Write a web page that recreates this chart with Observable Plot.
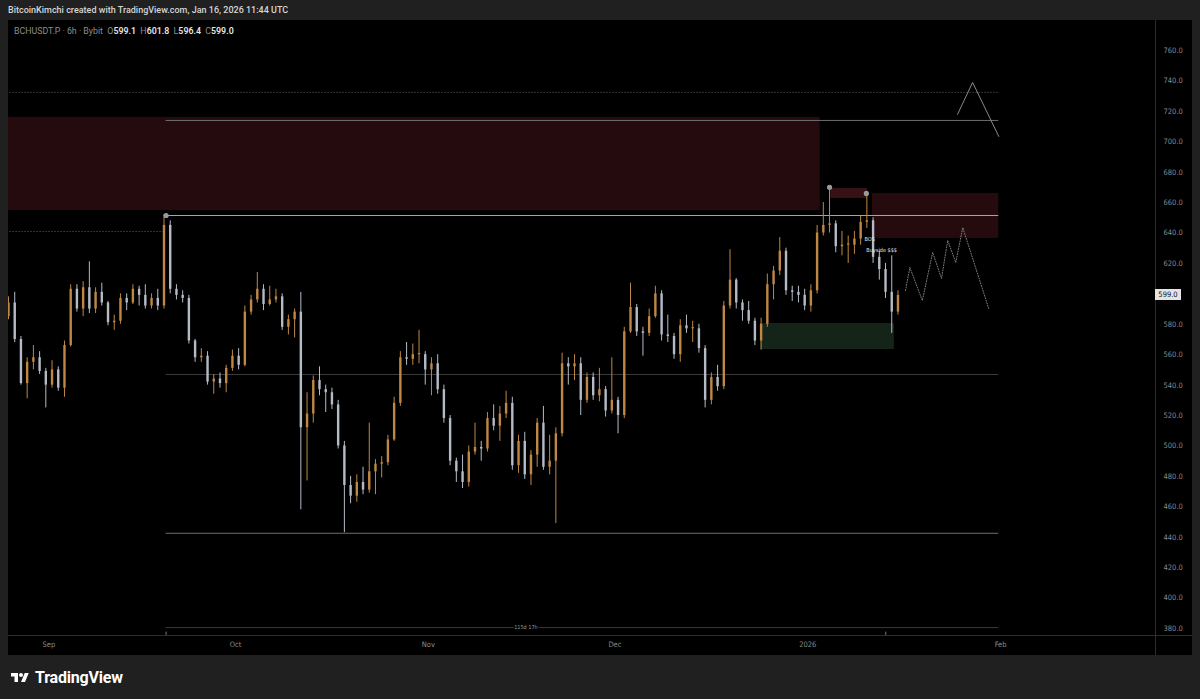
<!DOCTYPE html>
<html><head><meta charset="utf-8">
<script src="https://cdn.jsdelivr.net/npm/d3@7"></script>
<script src="https://cdn.jsdelivr.net/npm/@observablehq/plot@0.6"></script>
<style>
html,body{margin:0;padding:0;background:#202020;width:1200px;height:699px;overflow:hidden;font-family:Roboto,"Open Sans",sans-serif;}
#hdr{position:absolute;left:8px;top:5px;font-size:9px;font-weight:500;color:#d6d6d6;white-space:nowrap;}
#panel{position:absolute;left:8px;top:20px;width:1184px;height:635px;background:#000;overflow:hidden;}
#legend{position:absolute;left:6px;top:6px;font-size:8.8px;color:#8c8c8c;white-space:nowrap;z-index:3;}
#legend b{color:#e6e6e6;font-weight:600;}
.vsep{position:absolute;left:1147px;top:0;width:1px;height:635px;background:#2c2c2c;z-index:2;}
.hsep{position:absolute;left:0;top:615px;width:1184px;height:1px;background:#2c2c2c;z-index:2;}
#last{position:absolute;left:1147px;width:26px;height:11px;background:#e4e4e4;color:#111;font-size:7.5px;line-height:11px;text-align:center;z-index:4;font-family:"Liberation Sans Narrow","DejaVu Sans Condensed",Roboto,sans-serif;}
#logo{position:absolute;left:10px;top:668px;display:flex;align-items:center;gap:5px;color:#fff;font-size:16px;font-weight:700;letter-spacing:-0.2px;}
</style></head>
<body>
<div id="hdr">BitcoinKimchi created with TradingView.com, Jan 16, 2026 11:44 UTC</div>
<div id="panel">
  <div id="legend">BCHUSDT.P · 6h · Bybit &nbsp;O<b>599.1</b> &nbsp;H<b>601.8</b> &nbsp;L<b>596.4</b> &nbsp;C<b>599.0</b></div>
  <div class="vsep"></div><div class="hsep"></div>
  <div id="last">599.0</div>
</div>
<div id="logo"><svg width="20" height="14" viewBox="0 0 36 28"><path d="M14 22H7V11H0V4h14v18zM28 22h-8l7.5-18h8L28 22z" fill="#fff"/><circle cx="20" cy="8" r="4" fill="#fff"/></svg><span>TradingView</span></div>
<script>
// ---- data (daily aggregation) ----
const startDay = "2025-08-25T12:00Z";
const firstOpen = 585;
const closes = [594,570,541,555,558,549,540,550,538,566,
603,590,604,590,601,594,581,582,597,594,
603,599,592,597,592,645,603,599,597,569,
558,559,542,544,541,551,559,553,588,596,
603,593,596,598,578,583,588,512,521,543,
537,535,527,500,474,467,476,471,483,488,
489,504,528,558,557,560,560,550,554,537,
518,490,483,476,496,499,498,518,513,521,
528,487,503,481,494,515,486,490,508,554,
552,554,530,545,533,537,523,530,520,575,
591,575,574,585,600,573,572,560,579,577,
577,564,530,545,539,592,609,594,589,582,
569,580,606,615,628,602,601,599,592,602,
640,645,646,631,632,632,636,647,648,624,
616,601,588,599];
const highs = [598,601,572,558,566,562,551,556,552,569,
606,606,608,621,604,607,595,586,600,600,
606,605,606,600,603,652,648,606,602,599,
570,564,562,547,548,553,563,564,592,599,
614,606,605,603,600,586,590,601,535,546,
552,540,538,530,503,480,481,486,515,491,
493,507,532,562,568,567,576,562,558,560,
540,520,492,494,500,515,503,522,527,526,
536,532,507,509,497,518,526,507,512,561,
558,560,558,548,548,551,539,558,532,578,
607,593,578,590,605,602,586,574,583,586,
582,580,566,548,553,595,629,610,596,595,
584,584,613,618,637,630,605,605,603,606,
645,660,669,648,641,638,641,651,666,650,
628,620,625,602];
const lows = [583,568,540,531,550,547,525,538,536,532,
565,588,585,587,587,592,579,576,580,589,
593,592,590,590,589,590,600,596,594,567,
555,555,540,534,538,535,549,550,552,586,
594,589,592,594,576,573,571,458,477,515,
533,522,524,498,443,462,463,468,469,468,
479,487,503,526,553,553,554,540,533,534,
515,487,476,472,473,494,490,496,510,503,
518,484,482,478,474,486,484,481,449,506,
540,543,520,528,530,529,519,521,508,518,
574,572,559,572,584,569,568,557,555,574,
568,561,525,527,536,537,590,590,582,580,
566,563,578,596,612,599,595,594,589,588,
600,638,640,627,625,620,626,632,643,620,
609,597,574,586];

const supplyZones = [
  {x1:"2025-08-19T00:00Z", x2:"2026-01-03T00:00Z", y1:654.8, y2:716},
  {x1:"2026-01-11T10:00Z", x2:"2026-01-31T17:00Z", y1:636.4, y2:666}
];
const smallSupply = [{x1:"2026-01-04T17:00Z", x2:"2026-01-10T14:00Z", y1:662.7, y2:669.3}];
const demandZones = [{x1:"2025-12-24T10:00Z", x2:"2026-01-14T22:00Z", y1:563.4, y2:580.5}];

const levelsMain = [{y:651.5, x1:"2025-09-19T20:00Z", x2:"2026-01-31T17:00Z"}];
const levelsGrey = [
  {y:714, x1:"2025-09-19T20:00Z", x2:"2026-01-31T17:00Z"},
  {y:442.6, x1:"2025-09-19T20:00Z", x2:"2026-01-31T17:00Z"}
];
const levelsDim = [{y:547, x1:"2025-09-19T20:00Z", x2:"2026-01-31T17:00Z"}];
const levelsDotted = [
  {y:732.4, x1:"2025-08-19T00:00Z", x2:"2026-01-31T17:00Z"},
  {y:641, x1:"2025-08-19T00:00Z", x2:"2025-09-19T20:00Z"}
];
const swingPoints = [
  {t:"2025-09-19T20:00Z", p:651.5},
  {t:"2026-01-04T12:00Z", p:670},
  {t:"2026-01-10T10:00Z", p:666}
];
const labels = [
  {t:"2026-01-10T03:00Z", p:635.7, s:"BOS"},
  {t:"2026-01-10T10:00Z", p:628.5, s:"Buyside $$$"}
];
const projTimes = ["2026-01-16T17:00Z","2026-01-17T10:00Z","2026-01-19T10:00Z","2026-01-21T02:00Z","2026-01-22T12:00Z","2026-01-23T12:00Z","2026-01-24T19:00Z","2026-01-25T22:00Z","2026-01-30T02:00Z"];
const projPrices = [602.2,617.3,595.6,627.2,610.1,635.1,620.6,643.6,590.4];
const pathTimes = ["2026-01-25T02:00Z","2026-01-27T12:00Z","2026-01-31T17:00Z"];
const pathPrices = [718,739,703.5];
const measure = {x1:"2025-09-19T20:00Z", x2:"2026-01-13T13:00Z", x3:"2026-01-31T17:00Z", y:380.6, text:"115d 17h"};
const monthTicks = ["2025-09-01","2025-10-01","2025-11-01","2025-12-01","2026-01-01","2026-02-01"];
const monthLabels = ["Sep","Oct","Nov","Dec","2026","Feb"];
const priceTicks = [380,400,420,440,460,480,500,520,540,560,580,620,640,660,680,700,720,740,760];
const lastPrice = 599.0;

// ---- build ----
const D = s => new Date(s);
const t0 = D(startDay);
const candles = closes.map((c, i) => ({
  t: d3.utcDay.offset(t0, i),
  o: i === 0 ? firstOpen : closes[i - 1],
  c, h: highs[i], l: lows[i]
}));
candles.forEach(d => d.up = d.c >= d.o);
const conv = arr => arr.map(d => ({...d, x1: D(d.x1), x2: D(d.x2)}));
const pxPerDay = 6.22, plotW = 1147;
const xEnd = new Date(+t0 + plotW / pxPerDay * 864e5);
const tickDates = monthTicks.map(s => new Date(s + "T00:00Z"));
const tickMap = new Map(tickDates.map((d, i) => [+d, monthLabels[i]]));
const proj = projTimes.map((t, i) => ({t: D(t), p: projPrices[i]}));
const path = pathTimes.map((t, i) => ({t: D(t), p: pathPrices[i]}));
const UP = "#bf8744", DN = "#b4bbc6";

const chart = Plot.plot({
  width: 1184, height: 635,
  marginLeft: 0, marginRight: 37, marginTop: 0, marginBottom: 20,
  style: {background: "transparent", color: "#8a8a8a", fontSize: "7.5px", fontFamily: "'Liberation Sans Narrow','DejaVu Sans Condensed',Roboto,sans-serif", overflow: "visible"},
  x: {type: "utc", domain: [t0, xEnd], ticks: tickDates, tickFormat: d => tickMap.get(+d), tickSize: 0, tickPadding: 6, label: null},
  y: {domain: [375.4, 779.7], axis: "right", ticks: priceTicks, tickFormat: d => d.toFixed(1), tickSize: 0, tickPadding: 8, label: null},
  marks: [
    Plot.rect(conv(supplyZones), {x1: "x1", x2: "x2", y1: "y1", y2: "y2", fill: "#250b0e", clip: true}),
    Plot.rect(conv(smallSupply), {x1: "x1", x2: "x2", y1: "y1", y2: "y2", fill: "#361116", clip: true}),
    Plot.rect(conv(demandZones), {x1: "x1", x2: "x2", y1: "y1", y2: "y2", fill: "#142418", clip: true}),
    Plot.ruleY(conv(levelsDotted), {y: "y", x1: "x1", x2: "x2", stroke: "#7a7a7a", strokeWidth: 0.8, strokeDasharray: "1,2", clip: true}),
    Plot.ruleY(conv(levelsDim), {y: "y", x1: "x1", x2: "x2", stroke: "#3c3c3c", strokeWidth: 1}),
    Plot.ruleY(conv(levelsGrey), {y: "y", x1: "x1", x2: "x2", stroke: "#6e6e6e", strokeWidth: 1}),
    Plot.ruleY(conv(levelsMain), {y: "y", x1: "x1", x2: "x2", stroke: "#a5a5a5", strokeWidth: 1}),
    Plot.ruleX(candles, {x: "t", y1: "l", y2: "h", stroke: d => d.up ? UP : DN, strokeWidth: 1, clip: true}),
    Plot.ruleX(candles, {x: "t", y1: "o", y2: d => Math.abs(d.c - d.o) < 0.8 ? d.o + 0.8 : d.c, stroke: d => d.up ? UP : DN, strokeWidth: 2.4, clip: true}),
    Plot.line(proj, {x: "t", y: "p", stroke: "#8a8a8a", strokeWidth: 0.9, strokeDasharray: "1,1.6"}),
    Plot.line(path, {x: "t", y: "p", stroke: "#8a8a8a", strokeWidth: 1}),
    Plot.dot(swingPoints, {x: d => D(d.t), y: "p", r: 2.6, fill: "#9a9a9a"}),
    Plot.text(labels, {x: d => D(d.t), y: "p", text: "s", textAnchor: "start", fill: "#e6e6e6", fontSize: 5.5}),
    Plot.ruleY([measure], {y: "y", x1: d => D(d.x1), x2: d => D(d.x3), stroke: "#3a3a3a", strokeWidth: 1}),
    Plot.text([measure], {x: d => new Date((+D(d.x1) + +D(d.x2)) / 2), y: "y", text: "text", fill: "#9a9a9a", fontSize: 5.5, stroke: "#000", strokeWidth: 3}),
    Plot.ruleX([measure.x1, measure.x2].map(D), {y1: 375.4, y2: 377.6, stroke: "#777", strokeWidth: 1})
  ]
});
const panel = document.getElementById("panel");
chart.style.position = "absolute"; chart.style.left = "0"; chart.style.top = "0";
panel.appendChild(chart);
const yPos = chart.scale("y").apply(lastPrice);
document.getElementById("last").style.top = (yPos - 5.5) + "px";
</script>
</body></html>
